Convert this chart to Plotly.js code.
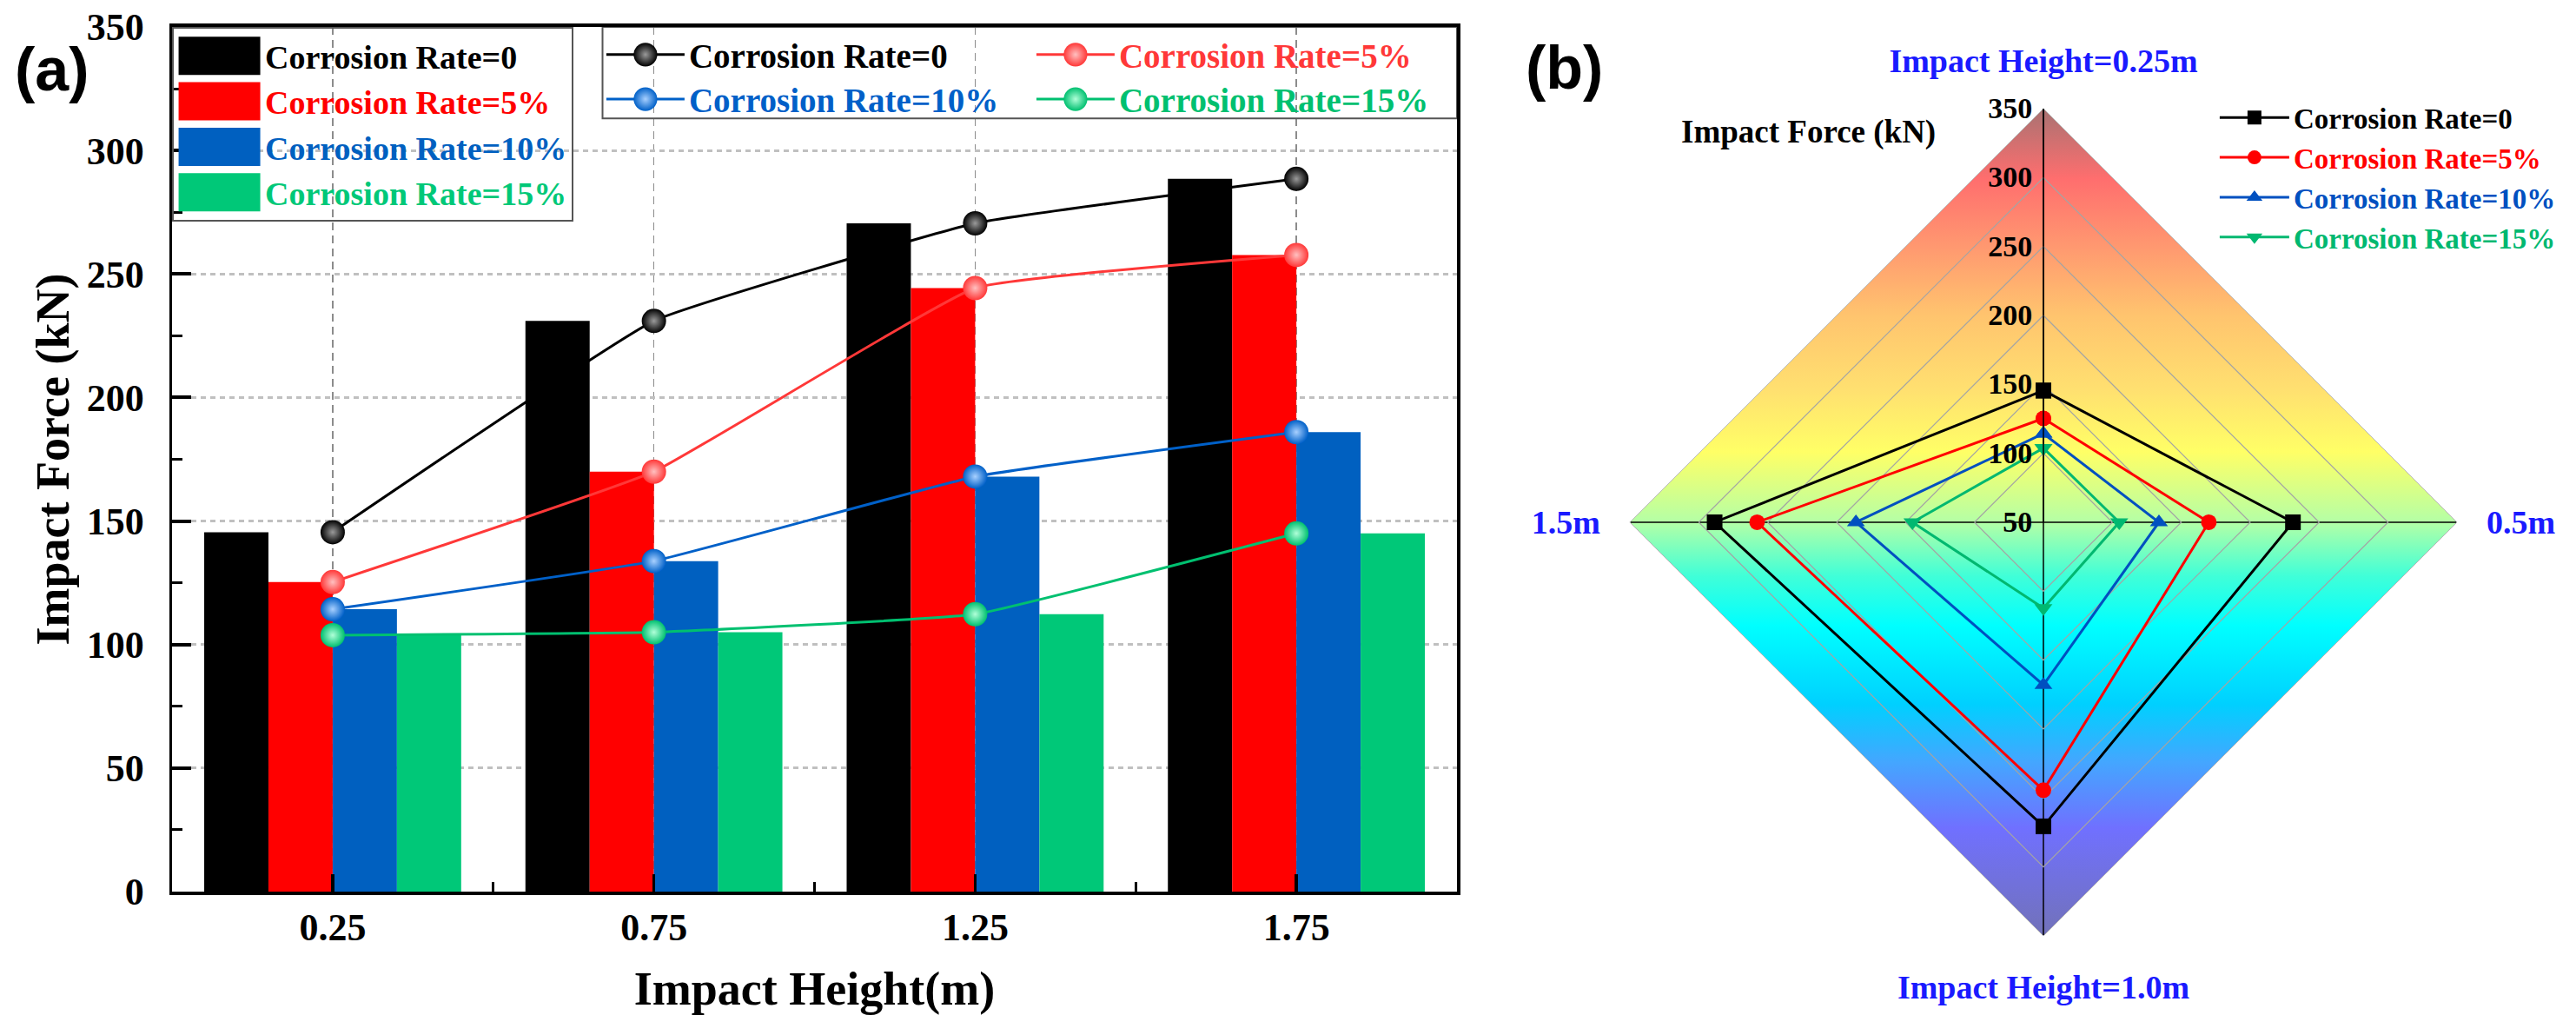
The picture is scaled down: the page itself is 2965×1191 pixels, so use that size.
<!DOCTYPE html>
<html>
<head>
<meta charset="utf-8">
<script src="https://cdn.plot.ly/plotly-3.0.1.min.js"></script>
<style>
  html, body { margin: 0; padding: 0; background: #fff; }
  #chart { width: 2965px; height: 1191px; }
</style>
</head>
<body>
<div id="chart"></div>
<script>
// impact heights of panel (a)
var heightVals = [0.25, 0.75, 1.25, 1.75];
var heightLabels = ['0.25', '0.75', '1.25', '1.75'];

// impact force (kN) per corrosion rate
var rate0 = [145.5, 231, 270.5, 288.5];
var rate5 = [125.3, 170, 244.3, 257.7];
var rate10 = [114.3, 133.8, 168, 186];
var rate15 = [103.8, 105, 112.3, 145];

var seriesNames = ['Corrosion Rate=0', 'Corrosion Rate=5%', 'Corrosion Rate=10%', 'Corrosion Rate=15%'];

// radar axes of panel (b)
var radarCats = ['Impact Height=0.25m', '0.5m', 'Impact Height=1.0m', '1.5m'];
var radarTicks = [50, 100, 150, 200, 250, 300, 350];

// background of the radar, top to bottom
var gradientStops = [
  [0, '#a87272'], [0.085, '#ff6e6e'], [0.17, '#ff9a70'], [0.25, '#ffc46e'],
  [0.34, '#ffe070'], [0.415, '#ffff66'], [0.5, '#b4ffa6'], [0.565, '#40ffd8'],
  [0.625, '#00ffff'], [0.72, '#00d0ff'], [0.79, '#44a6ff'], [0.87, '#7070ff'],
  [1, '#7272b8']
];

var serif = 'Liberation Serif, Times New Roman, serif';
var sans = 'Liberation Sans, Arial, sans-serif';
var rates = [rate0, rate5, rate10, rate15];
var barColors = ['#000000', '#ff0000', '#0060c0', '#00c878'];
var lineColors = ['#000000', '#ff3838', '#0060c8', '#00c070'];
var ballLight = ['#9a9a9a', '#ffc0c0', '#a8d0ff', '#b0ffd8'];
var radarColors = ['#000000', '#ff0000', '#0050c0', '#00b870'];
var radarSymbols = ['square', 'circle', 'triangle-up', 'triangle-down'];
var lineLegends = ['legend2', 'legend2', 'legend3', 'legend3'];

function colored(text, color) {
  return '<span style="color:' + color + '">' + text + '</span>';
}

var data = [];

rates.forEach(function(vals, i) {
  data.push({
    type: 'bar',
    x: heightVals,
    y: vals,
    name: colored(seriesNames[i], barColors[i]),
    marker: { color: barColors[i] },
    legend: 'legend',
  });
});

rates.forEach(function(vals, i) {
  data.push({
    type: 'scatter',
    mode: 'lines+markers',
    x: heightVals,
    y: vals,
    name: colored(seriesNames[i], lineColors[i]),
    line: { color: lineColors[i], width: 3, shape: 'spline', smoothing: 0.3 },
    marker: {
      size: 28,
      color: lineColors[i],
      gradient: { type: 'radial', color: ballLight[i] },
    },
    legend: lineLegends[i],
  });
});

rates.forEach(function(vals, i) {
  data.push({
    type: 'scatterpolar',
    subplot: 'polar',
    mode: 'lines+markers',
    r: vals.concat([vals[0]]),
    theta: radarCats.concat([radarCats[0]]),
    name: colored(seriesNames[i], radarColors[i]),
    line: { color: radarColors[i], width: 3 },
    marker: { symbol: radarSymbols[i], size: 18, color: radarColors[i] },
    legend: 'legend4',
  });
});

// diamond gradient drawn as an svg picture behind the polar subplot
var svg = '<svg xmlns="http://www.w3.org/2000/svg" width="200" height="200" viewBox="0 0 100 100" preserveAspectRatio="none">' +
  '<defs><linearGradient id="g" x1="0" y1="0" x2="0" y2="1">' +
  gradientStops.map(function(s) { return '<stop offset="' + s[0] + '" stop-color="' + s[1] + '"/>'; }).join('') +
  '</linearGradient></defs><polygon points="50,0 100,50 50,100 0,50" fill="url(#g)"/></svg>';

var polarDomain = { x: [0.6327, 0.9538], y: [0.0957, 0.8951] };

var legendBase = {
  xanchor: 'left',
  yanchor: 'top',
  bgcolor: 'rgba(0,0,0,0)',
  font: { family: serif, size: 39, weight: 'bold' },
};

var layout = {
  width: 2965,
  height: 1191,
  margin: { l: 0, r: 0, t: 0, b: 0, pad: 0 },
  paper_bgcolor: '#ffffff',
  plot_bgcolor: 'rgba(0,0,0,0)',
  font: { family: serif, size: 38, color: '#000000', weight: 'bold' },
  barmode: 'group',
  bargap: 0.2,
  bargroupgap: 0,
  xaxis: {
    domain: [0.0668, 0.5656],
    range: [0, 2],
    tickmode: 'array',
    tickvals: heightVals,
    ticktext: heightLabels,
    ticks: 'inside',
    ticklen: 20,
    tickwidth: 3.5,
    tickcolor: '#000000',
    minor: { tickmode: 'array', tickvals: [0.5, 1, 1.5], ticks: 'inside', ticklen: 11, tickwidth: 3, tickcolor: '#000000' },
    showline: true,
    linewidth: 3.5,
    linecolor: '#000000',
    mirror: true,
    showgrid: true,
    gridcolor: '#8c8c8c',
    gridwidth: 1.5,
    griddash: '9px,6px',
    zeroline: false,
    tickfont: { size: 44 },
    ticklabelstandoff: 0,
    title: { text: 'Impact Height(m)', font: { size: 54 }, standoff: 28 },
  },
  yaxis: {
    domain: [0.1385, 0.974],
    range: [0, 350],
    tickmode: 'linear',
    tick0: 0,
    dtick: 50,
    ticks: 'inside',
    ticklen: 22,
    tickwidth: 4,
    tickcolor: '#000000',
    minor: { dtick: 25, ticks: 'inside', ticklen: 12, tickwidth: 3, tickcolor: '#000000' },
    showline: true,
    linewidth: 3.5,
    linecolor: '#000000',
    mirror: true,
    showgrid: true,
    gridcolor: '#c0c0c0',
    gridwidth: 3,
    griddash: '6px,5px',
    zeroline: false,
    tickfont: { size: 44 },
    ticklabelstandoff: 20,
    title: { text: 'Impact Force (kN)', font: { size: 54 }, standoff: 4 },
  },
  polar: {
    domain: polarDomain,
    bgcolor: 'rgba(0,0,0,0)',
    gridshape: 'linear',
    radialaxis: {
      range: [50, 350],
      tickmode: 'array',
      tickvals: radarTicks,
      angle: 90,
      tickangle: 90,
      side: 'counterclockwise',
      showline: true,
      linecolor: '#000000',
      linewidth: 1.5,
      gridcolor: '#a4a4a4',
      gridwidth: 1.2,
      ticks: '',
      tickfont: { size: 34 },
    },
    angularaxis: {
      type: 'category',
      categoryarray: radarCats,
      rotation: 90,
      direction: 'clockwise',
      gridcolor: '#000000',
      gridwidth: 1.5,
      showline: true,
      linecolor: '#b8b8b8',
      linewidth: 1,
      ticks: 'outside',
      ticklen: 26,
      tickcolor: 'rgba(0,0,0,0)',
      tickfont: { size: 38, color: '#1a1aff' },
    },
  },
  images: [{
    source: 'data:image/svg+xml;charset=utf-8,' + encodeURIComponent(svg),
    xref: 'paper',
    yref: 'paper',
    x: polarDomain.x[0],
    y: polarDomain.y[1],
    sizex: polarDomain.x[1] - polarDomain.x[0],
    sizey: polarDomain.y[1] - polarDomain.y[0],
    xanchor: 'left',
    yanchor: 'top',
    sizing: 'stretch',
    layer: 'below',
  }],
  legend: Object.assign({}, legendBase, {
    x: 0.0668, y: 0.974,
    bordercolor: '#555555', borderwidth: 2,
    itemwidth: 95,
    font: { family: serif, size: 38, weight: 'bold' },
  }),
  legend2: Object.assign({}, legendBase, {
    orientation: 'h', x: 0.2337, y: 0.974,
    itemwidth: 90, entrywidth: 390,
  }),
  legend3: Object.assign({}, legendBase, {
    orientation: 'h', x: 0.2337, y: 0.931,
    itemwidth: 90, entrywidth: 390,
  }),
  legend4: Object.assign({}, legendBase, {
    x: 0.860, y: 0.91,
    itemwidth: 80,
    font: { family: serif, size: 33, weight: 'bold' },
  }),
  shapes: [{
    type: 'rect',
    xref: 'x', yref: 'y',
    x0: 0.67, x1: 2, y0: 313, y1: 350,
    line: { color: '#555555', width: 2 },
  }],
  annotations: [
    { text: '(a)', xref: 'paper', yref: 'paper', x: 0.0202, y: 0.9328,
      xanchor: 'center', yanchor: 'middle', showarrow: false,
      font: { family: sans, size: 70, weight: 'bold' } },
    { text: '(b)', xref: 'paper', yref: 'paper', x: 0.6071, y: 0.9345,
      xanchor: 'center', yanchor: 'middle', showarrow: false,
      font: { family: sans, size: 70, weight: 'bold' } },
    { text: 'Impact Force (kN)', xref: 'paper', yref: 'paper', x: 0.7019, y: 0.8724,
      xanchor: 'center', yanchor: 'middle', showarrow: false,
      font: { family: serif, size: 37, weight: 'bold' } },
  ],
  showlegend: true,
};

Plotly.newPlot('chart', data, layout, { staticPlot: true }).then(function(gd) {
  // the source figure uses large swatches and balls in its legends of panel (a)
  gd.querySelectorAll('.legend .legendpoints path').forEach(function(p) {
    p.setAttribute('d', 'M47,22H-47V-22H47Z');
  });
  gd.querySelectorAll('.legend2 path.scatterpts, .legend3 path.scatterpts').forEach(function(p) {
    p.setAttribute('transform', (p.getAttribute('transform') || '') + ' scale(1.7)');
  });
});
</script>
</body>
</html>
